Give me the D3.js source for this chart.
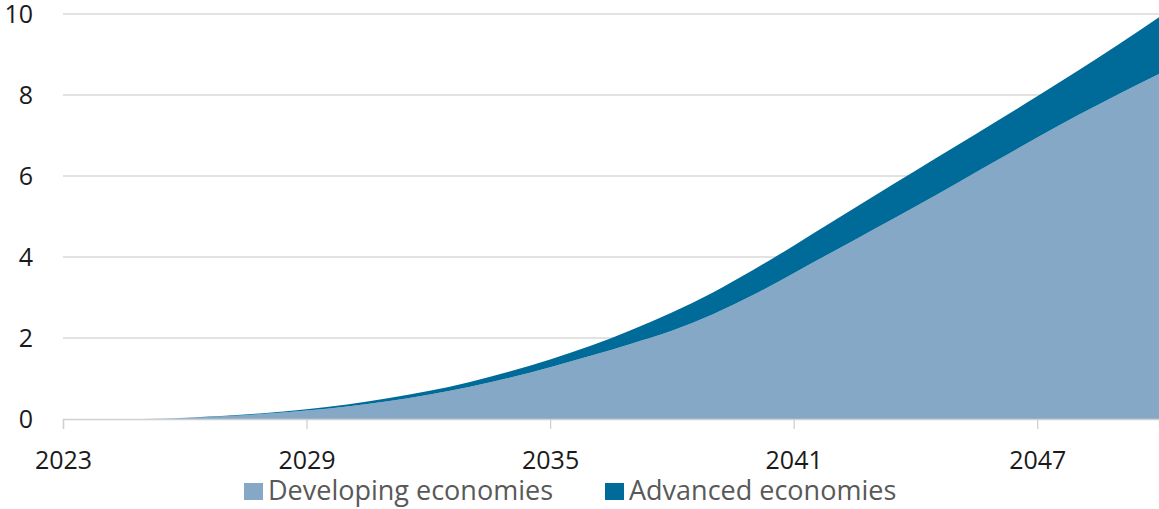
<!DOCTYPE html>
<html>
<head>
<meta charset="utf-8">
<script src="https://cdn.jsdelivr.net/npm/d3@7"></script>
<style>
  html, body { margin: 0; padding: 0; background: #ffffff; }
  svg { display: block; font-family: "Open Sans", "Noto Sans", sans-serif; }
</style>
</head>
<body>
<svg id="chart" width="1159" height="509"></svg>
<script>
// Yearly series, 2023–2050
const years = d3.range(2023, 2051);
const developing = [0, 0, 0, 0.03, 0.07, 0.13, 0.21, 0.31, 0.44, 0.60, 0.79, 1.02, 1.28, 1.56, 1.86, 2.18, 2.58, 3.06, 3.60, 4.15, 4.70, 5.25, 5.81, 6.38, 6.95, 7.50, 8.02, 8.52];
const advanced   = [0, 0, 0, 0, 0.01, 0.02, 0.03, 0.05, 0.07, 0.09, 0.12, 0.15, 0.19, 0.25, 0.34, 0.45, 0.54, 0.62, 0.68, 0.75, 0.82, 0.88, 0.93, 0.97, 1.02, 1.10, 1.23, 1.40];
const seriesNames = ["Developing economies", "Advanced economies"];
const seriesColors = ["#86a8c7", "#006b98"];
const xTicks = [2023, 2029, 2035, 2041, 2047];
const yTicks = [0, 2, 4, 6, 8, 10];

const svg = d3.select("#chart");
const plot = { left: 63, right: 1159, top: 14, bottom: 419 };

const x = d3.scaleLinear().domain([2023, 2050]).range([plot.left, plot.right]);
const y = d3.scaleLinear().domain([0, 10]).range([plot.bottom, plot.top]);

const rows = years.map((yr, i) => ({ year: yr, dev: developing[i], adv: advanced[i] }));
const stacked = d3.stack().keys(["dev", "adv"])(rows);

// horizontal gridlines
svg.append("g")
  .selectAll("line")
  .data(yTicks.filter(t => t > 0))
  .join("line")
  .attr("x1", plot.left).attr("x2", plot.right)
  .attr("y1", d => y(d)).attr("y2", d => y(d))
  .attr("stroke", "#d9d9d9").attr("stroke-width", 1.3);

// stacked areas
const area = d3.area()
  .x(d => x(d.data.year))
  .y0(d => y(d[0]))
  .y1(d => y(d[1]))
  .curve(d3.curveMonotoneX);

svg.append("g")
  .selectAll("path")
  .data(stacked)
  .join("path")
  .attr("d", area)
  .attr("fill", (d, i) => seriesColors[i]);

// x axis
const xAxis = d3.axisBottom(x).tickValues(xTicks).tickFormat(d3.format("d")).tickSize(10).tickPadding(22);
const gx = svg.append("g").attr("transform", `translate(0,${plot.bottom})`).call(xAxis);
gx.select(".domain").attr("stroke", "#d0d0d0").attr("stroke-width", 1.3);
gx.selectAll(".tick line").attr("stroke", "#d0d0d0").attr("stroke-width", 1.3);
gx.selectAll(".tick text").attr("font-size", 25).attr("fill", "#1a1a1a")
  .attr("font-family", "'Open Sans', sans-serif");

// y axis labels
const yAxis = d3.axisLeft(y).tickValues(yTicks).tickSize(0).tickPadding(30);
const gy = svg.append("g").attr("transform", `translate(${plot.left},0)`).call(yAxis);
gy.select(".domain").remove();
gy.selectAll(".tick text").attr("font-size", 25).attr("fill", "#1a1a1a")
  .attr("font-family", "'Open Sans', sans-serif");

// legend
const legendX = [244, 605];
const legend = svg.append("g");
seriesNames.forEach((name, i) => {
  legend.append("rect")
    .attr("x", legendX[i]).attr("y", 483)
    .attr("width", 19).attr("height", 17)
    .attr("fill", seriesColors[i]);
  legend.append("text")
    .attr("x", legendX[i] + 24).attr("y", 500)
    .attr("font-size", 27).attr("fill", "#595959")
    .text(name);
});
</script>
</body>
</html>
